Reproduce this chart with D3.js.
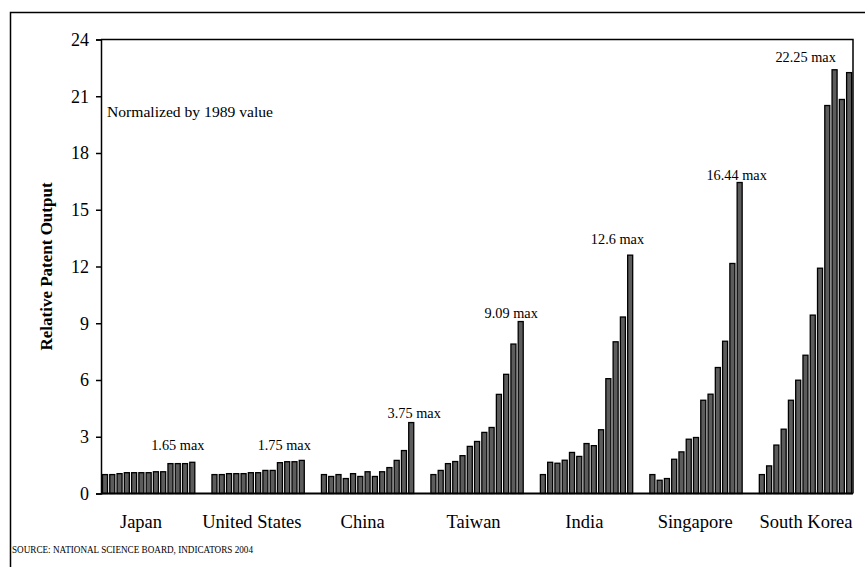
<!DOCTYPE html>
<html>
<head>
<meta charset="utf-8">
<script src="https://cdn.jsdelivr.net/npm/d3@7"></script>
<style>
  html, body { margin: 0; padding: 0; background: #fff; }
  svg { display: block; }
  text { font-family: "Liberation Serif", "Times New Roman", serif; fill: #000; }
</style>
</head>
<body>
<svg id="chart" width="865" height="567"></svg>
<script>
// ---- Data ----
const countries = ["Japan", "United States", "China", "Taiwan", "India", "Singapore", "South Korea"];
const years = [1989, 1990, 1991, 1992, 1993, 1994, 1995, 1996, 1997, 1998, 1999, 2000, 2001];
const japan = [1.0, 1.0, 1.05, 1.1, 1.1, 1.1, 1.1, 1.15, 1.15, 1.58, 1.58, 1.58, 1.65];
const unitedStates = [1.0, 1.0, 1.05, 1.05, 1.05, 1.1, 1.1, 1.22, 1.22, 1.63, 1.68, 1.68, 1.75];
const china = [1.0, 0.9, 1.0, 0.79, 1.05, 0.9, 1.15, 0.9, 1.15, 1.37, 1.75, 2.27, 3.75];
const taiwan = [1.0, 1.22, 1.58, 1.69, 2.0, 2.49, 2.75, 3.23, 3.49, 5.24, 6.3, 7.9, 9.09];
const india = [1.0, 1.65, 1.6, 1.76, 2.17, 1.96, 2.64, 2.53, 3.37, 6.07, 8.02, 9.33, 12.6];
const singapore = [1.0, 0.7, 0.79, 1.81, 2.2, 2.87, 2.96, 4.93, 5.25, 6.66, 8.05, 12.16, 16.44];
const southKorea = [1.0, 1.46, 2.56, 3.4, 4.93, 5.99, 7.31, 9.43, 11.91, 20.51, 22.4, 20.83, 22.25];
const seriesValues = [japan, unitedStates, china, taiwan, india, singapore, southKorea];
const maxLabels = ["1.65 max", "1.75 max", "3.75 max", "9.09 max", "12.6 max", "16.44 max", "22.25 max"];
const yTicks = [0, 3, 6, 9, 12, 15, 18, 21, 24];
const yTitle = "Relative Patent Output";
const noteText = "Normalized by 1989 value";
const sourceText = "SOURCE: NATIONAL SCIENCE BOARD, INDICATORS 2004";

// ---- Layout ----
const svg = d3.select("#chart");
const plot = { left: 101, right: 853, top: 39.5, bottom: 493.5 };

const y = d3.scaleLinear().domain([0, 24]).range([plot.bottom, plot.top]);
const xGroup = d3.scaleBand().domain(countries).range([101, 867.3]).padding(0);
const xYear = d3.scaleBand().domain(years).range([1.5, 93.8]).paddingInner(0.31).paddingOuter(0);
const xLabel = d3.scaleBand().domain(countries).range([85.6, 861.4]).padding(0);

// outer figure frame (left + top)
svg.append("path")
  .attr("d", "M10.5,567 L10.5,12.5 L865,12.5")
  .attr("fill", "none").attr("stroke", "#000").attr("stroke-width", 1.5);

// plot box top/right
svg.append("path")
  .attr("d", `M${plot.left},${plot.top} L${plot.right},${plot.top} L${plot.right},${plot.bottom}`)
  .attr("fill", "none").attr("stroke", "#000").attr("stroke-width", 1.5);

// bars
const groups = svg.append("g").selectAll("g")
  .data(countries.map((c, i) => ({ country: c, values: seriesValues[i], label: maxLabels[i] })))
  .join("g")
  .attr("transform", d => `translate(${xGroup(d.country)},0)`);

groups.selectAll("rect")
  .data(d => d.values.map((v, j) => ({ year: years[j], value: v })))
  .join("rect")
  .attr("x", d => xYear(d.year))
  .attr("y", d => y(d.value))
  .attr("width", xYear.bandwidth())
  .attr("height", d => y(0) - y(d.value))
  .attr("fill", "#5c5c5c")
  .attr("stroke", "#000")
  .attr("stroke-width", 1.3);

// max labels (hand placed offsets relative to the last bar of each group)
const labelOffsets = [[-14.5, -17.3], [-17.5, -15.4], [3, -9.5], [-9.5, -8.5], [-12.7, -16], [-3, -7.5], [-43.5, -15.5]];
groups.append("text")
  .attr("x", (d, i) => xYear(years[years.length - 1]) + xYear.bandwidth() / 2 + labelOffsets[i][0])
  .attr("y", (d, i) => y(d.values[d.values.length - 1]) + labelOffsets[i][1])
  .attr("dy", "0.35em")
  .attr("text-anchor", "middle")
  .attr("font-size", 14.3)
  .text(d => d.label);

// y axis
const yAxis = d3.axisLeft(y).tickValues(yTicks).tickSize(5).tickPadding(7).tickFormat(d3.format("d"));
const gy = svg.append("g").attr("transform", `translate(${plot.left},0)`).call(yAxis);
gy.select(".domain").attr("stroke", "#000").attr("stroke-width", 1.5);
gy.selectAll(".tick line").attr("stroke", "#000").attr("stroke-width", 1.5);
gy.selectAll(".tick text").attr("font-size", 18).attr("font-family", "Liberation Serif, serif").attr("fill", "#000");

// x baseline
svg.append("line")
  .attr("x1", plot.left).attr("x2", plot.right)
  .attr("y1", y(0)).attr("y2", y(0))
  .attr("stroke", "#000").attr("stroke-width", 2);

// x category labels
const xAxis = d3.axisBottom(xLabel).tickSize(0).tickPadding(0);
const gx = svg.append("g").attr("transform", `translate(0,${y(0)})`).call(xAxis);
gx.select(".domain").remove();
gx.selectAll(".tick text")
  .attr("y", 34).attr("dy", 0)
  .attr("font-size", 18.5).attr("font-family", "Liberation Serif, serif").attr("fill", "#000");

// y title
svg.append("text")
  .attr("transform", `translate(52,${(plot.top + plot.bottom) / 2}) rotate(-90)`)
  .attr("text-anchor", "middle")
  .attr("font-size", 17)
  .attr("font-weight", "bold")
  .text(yTitle);

// note
svg.append("text")
  .attr("x", 107).attr("y", 117)
  .attr("font-size", 15)
  .attr("textLength", 166)
  .attr("lengthAdjust", "spacingAndGlyphs")
  .text(noteText);

// source
svg.append("text")
  .attr("x", 12).attr("y", 553)
  .attr("font-size", 11)
  .attr("textLength", 241)
  .attr("lengthAdjust", "spacingAndGlyphs")
  .text(sourceText);
</script>
</body>
</html>
